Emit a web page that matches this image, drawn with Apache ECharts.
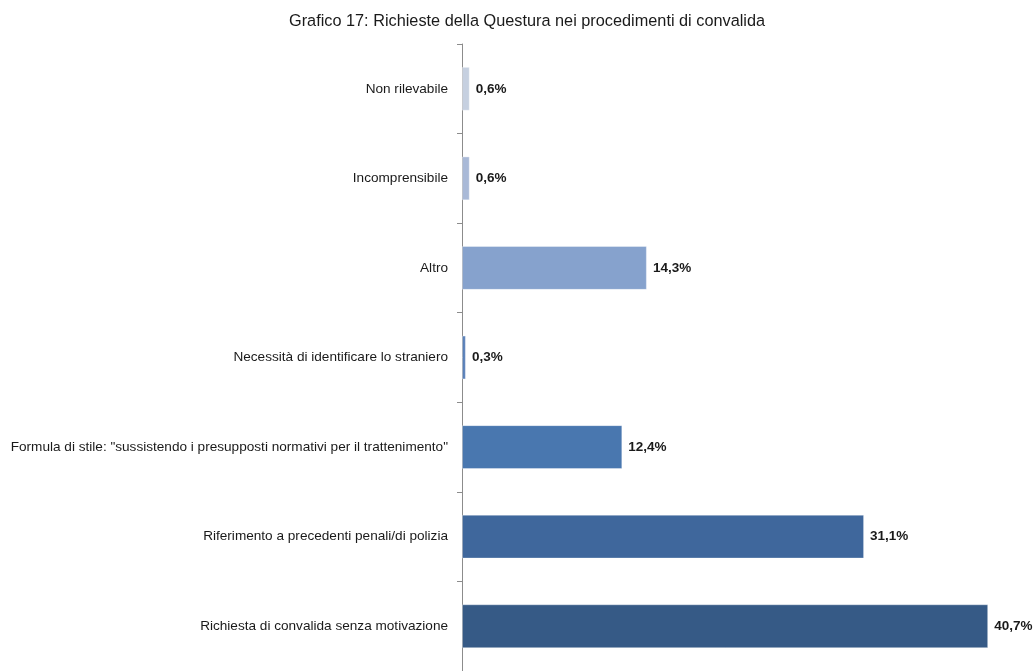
<!DOCTYPE html>
<html>
<head>
<meta charset="utf-8">
<script src="https://cdn.jsdelivr.net/npm/echarts@6/dist/echarts.min.js"></script>
<style>
  html, body { margin: 0; padding: 0; background: #fff; }
  #chart { width: 1036px; height: 671px; }
</style>
</head>
<body>
<div id="chart"></div>
<script>
// Categories, listed top to bottom
const categories = [
  'Non rilevabile',
  'Incomprensibile',
  'Altro',
  'Necessità di identificare lo straniero',
  'Formula di stile: "sussistendo i presupposti normativi per il trattenimento"',
  'Riferimento a precedenti penali/di polizia',
  'Richiesta di convalida senza motivazione'
];
// Percentage values for each category
const values = [0.6, 0.6, 14.3, 0.3, 12.4, 31.1, 40.7];
// Bar colours, light to dark
const barColors = ['#c6d0e0', '#a9b9d7', '#86a2cd', '#5a81b9', '#4977af', '#3f679c', '#365a86'];

const chart = echarts.init(document.getElementById('chart'));
chart.setOption({
  backgroundColor: '#ffffff',
  animation: false,
  title: {
    text: 'Grafico 17: Richieste della Questura nei procedimenti di convalida',
    left: 284,
    top: 9,
    textStyle: { fontFamily: 'Liberation Sans, Arial, sans-serif', fontSize: 16.3, fontWeight: 'normal', color: '#1a1a1a' }
  },
  grid: { left: 462, right: 31, top: 44, bottom: -2, containLabel: false },
  xAxis: {
    type: 'value',
    min: 0,
    max: 42,
    show: false
  },
  yAxis: {
    type: 'category',
    inverse: true,
    data: categories,
    axisLine: { show: true, lineStyle: { color: '#8c8c8c', width: 1 } },
    axisTick: { show: true, length: 5, lineStyle: { color: '#8c8c8c' } },
    axisLabel: {
      margin: 14,
      fontFamily: 'Liberation Sans, Arial, sans-serif',
      fontSize: 13.6,
      color: '#1a1a1a'
    }
  },
  series: [{
    type: 'bar',
    barWidth: '49%',
    data: values.map((v, i) => ({
      value: v,
      itemStyle: { color: barColors[i], borderColor: 'rgba(255,255,255,0.35)', borderWidth: 1 }
    })),
    label: {
      show: true,
      position: 'right',
      distance: 6,
      fontFamily: 'Liberation Sans, Arial, sans-serif',
      fontSize: 13.5,
      fontWeight: 'bold',
      color: '#1a1a1a',
      formatter: p => p.value.toFixed(1).replace('.', ',') + '%'
    }
  }]
});
</script>
</body>
</html>
